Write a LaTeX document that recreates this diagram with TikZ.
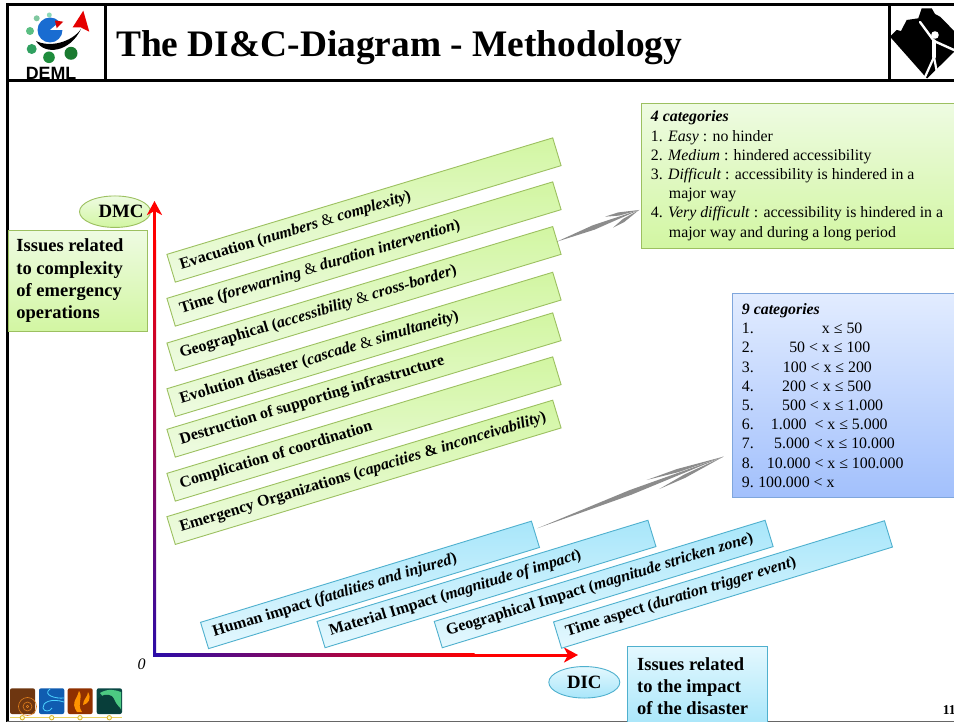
\documentclass[tikz,border=0pt]{standalone}
\usepackage{fontspec}
\setmainfont{Liberation Serif}
\newfontfamily\logofont{Liberation Sans}
\usetikzlibrary{shapes.geometric,arrows.meta,calc}
\definecolor{gborder}{HTML}{9CC060}
\definecolor{gtop}{HTML}{EEFBE2}
\definecolor{gbot}{HTML}{D2F6A2}
\definecolor{bborder}{HTML}{4FB0CE}
\definecolor{btop}{HTML}{E4F8FE}
\definecolor{bbot}{HTML}{A8E6FA}
\definecolor{pborder}{HTML}{7FA6DC}
\definecolor{ptop}{HTML}{E2ECFF}
\definecolor{pbot}{HTML}{A2C0FC}
\definecolor{axisblue}{HTML}{2A0CA8}
\newcommand{\bandfont}{\bfseries\fontsize{15.95}{17}\selectfont}
\newcommand{\rowfont}{\fontsize{15.85}{19.2}\selectfont}
\newcommand{\catrow}[2]{\makebox[#1pt][l]{#2}}
\newcommand{\thin}{{\mdseries\&}}
\tikzset{
  x=1pt,y=-1pt,
  greenband/.style={draw=gborder,line width=.9pt,top color=gbot,bottom color=gtop,rotate=16.8,
    minimum width=403,minimum height=29,inner xsep=9.5,inner ysep=0,text width=384,align=flush left,font=\bandfont},
  blueband/.style={draw=bborder,line width=.9pt,top color=bbot,bottom color=btop,rotate=17,
    minimum width=346,minimum height=27.5,inner xsep=9,inner ysep=0,text width=328,align=flush left,font=\bandfont},
  issuebox/.style={line width=.9pt,anchor=north west,inner xsep=8,inner ysep=0,align=flush left,
    font=\bfseries\fontsize{18.5}{22.4}\selectfont},
  catbox/.style={line width=.9pt,anchor=north west,inner xsep=9.5,inner ysep=0,align=flush left,font=\rowfont},
  greenfill/.style={draw=gborder,top color=gtop,bottom color=gbot},
  bluefill/.style={draw=bborder,top color=btop,bottom color=bbot},
  oval/.style={ellipse,line width=.9pt,inner xsep=-20pt,inner ysep=-5pt,minimum width=71,minimum height=31.5,
    font=\bfseries\fontsize{18.8}{20}\selectfont},
  frameline/.style={draw=black,line width=3pt},
  axisline/.style={draw=red,line width=3pt,-{Stealth[length=14pt,width=15pt,inset=4pt]}},
  sketchfill/.style={fill=gray!75!black,opacity=.72},
}
\newcommand{\taper}[5]{% from, to, position of the belly, half width x, half width y
  \fill[sketchfill] (#1) -- ($(#1)!#3!(#2)+(#4,#5)$) -- (#2) -- ($(#1)!#3!(#2)+(-#4,-#5)$) -- cycle;}
\begin{document}
\begin{tikzpicture}
\clip (0,0) rectangle (954,722);
\fill[white] (0,0) rectangle (954,722);

% frame
\draw[frameline] (7,723) -- (7,5) -- (956,5);
\draw[frameline] (7,80.5) -- (956,80.5);
\draw[frameline] (105,5) -- (105,80.5);
\draw[frameline] (889,5) -- (889,80.5);
\draw[draw=gray!80!black,line width=1pt] (7,721.5) -- (956,721.5);

% title
\node[anchor=base west,inner sep=0,font=\bfseries\fontsize{37.4}{40}\selectfont] (title) at (116,57) {The DI\&C-Diagram - Methodology};

% DEML logo
\fill[white] (9,7) rectangle (103,79);
\fill[blue!55!cyan!80!black!90] (50,30) circle (12.5);
\fill[white] (50,30) -- (62,20) -- (64,30) -- cycle;
\fill[red!85!black] (55,20.5) -- (63.3,21.7) -- (56.7,28.3) -- cycle;
\fill[black] (36,41) .. controls (45,56) and (70,52) .. (81,29) .. controls (72,42) and (50,48) .. (36,41) -- cycle;
\fill[red!90!black] (72.7,27.3) -- (83.3,10.7) -- (89.3,31.7) -- (81,27.5) -- cycle;
\fill[fill={rgb,255:red,128;green,200;blue,160}] (36.7,18.3) circle (3);
\fill[fill={rgb,255:red,140;green,216;blue,184}] (49.3,15) circle (2.5);
\fill[fill={rgb,255:red,90;green,190;blue,130}] (30,31) circle (4);
\fill[fill={rgb,255:red,48;green,160;blue,96}] (31.7,49) circle (5);
\fill[fill={rgb,255:red,30;green,140;blue,60}] (49,57.3) circle (5.8);
\fill[fill={rgb,255:red,26;green,122;blue,48}] (71,53.3) circle (6.5);
\node[inner sep=0,font=\logofont\bfseries\fontsize{17.8}{18}\selectfont,text=black] (deml) at (51,73) {DEML};

% climber logo
\fill[black] (890,36.7) -- (896.7,30) -- (901,31) -- (906.7,20) -- (918.3,18.3) -- (921.7,8.3) -- (931.7,8.3)
  -- (935,14) -- (940,16.7) -- (948.3,25) -- (954,31) -- (954,52) -- (927,78.5) -- cycle;
\fill[white] (935,35) circle (3.8);
\draw[white,line width=2.4pt,line cap=round] (920,22) -- (934,41) -- (954,50);
\draw[white,line width=3.4pt,line cap=round] (934,41) -- (934,57);
\draw[white,line width=2.2pt,line cap=round] (934,57) -- (925,77);
\draw[white,line width=2.2pt,line cap=round] (934,57) -- (938,78);

% footer icons
\fill[white] (9,687) rectangle (125,720);
\fill[rounded corners=2pt,fill={rgb,255:red,110;green,54;blue,16}] (10,688.3) rectangle (35,714);
\draw[orange!55!brown,line width=.6pt] (27.5,706.5) circle (1.2) (27.5,706.5) circle (4.5) (27.5,706.5) circle (9);
\fill[rounded corners=2pt,fill={rgb,255:red,16;green,92;blue,176}] (39,688.3) rectangle (64.3,714);
\draw[blue!25!cyan!70!white,line width=.8pt] (50,689) .. controls (42,695) and (56,699) .. (64,698)
  (64,702) .. controls (52,698) and (42,702) .. (43,708) .. controls (44,712) and (50,712) .. (52,708);
\fill[rounded corners=2pt,fill={rgb,255:red,144;green,48;blue,0}] (67.7,688.3) rectangle (92.7,714);
\fill[orange!85!yellow] (77,712) .. controls (70,702) and (78,698) .. (79,691) .. controls (84,698) and (76,703) .. (82,712) -- cycle;
\fill[orange!85!yellow] (83,705) .. controls (83,699) and (88,697) .. (88,692) .. controls (92,699) and (88,704) .. (83,705) -- cycle;
\fill[rounded corners=2pt,fill={rgb,255:red,10;green,72;blue,68}] (96.7,688.3) rectangle (122,714);
\fill[teal!60!green!70!white] (100,693) .. controls (108,688) and (116,690) .. (121,692) -- (121,711) .. controls (112,708) and (106,700) .. (100,693) -- cycle;
\fill[rounded corners=1pt,fill={rgb,255:red,8;green,62;blue,58}] (100,697) .. controls (106,693) and (112,695) .. (114,699) .. controls (116,704) and (119,707) .. (121,709) -- (121,713.5) -- (97,713.5) -- (97,699) -- cycle;
\draw[brown!50!yellow!70!white,line width=1pt] (10,717.7) -- (122,717.7);
\foreach \cx in {22.3,51.7,80,109.3}
  \filldraw[draw=brown!60!yellow,fill=white!80!yellow,line width=.8pt] (\cx,717.7) circle (2.2);

% axis labels
\node[oval,draw=gborder,top color=gtop,bottom color=gbot] (dmc) at (115,211.7) {\hspace*{12pt}DMC};
\node[oval,draw=bborder,top color=btop,bottom color=bbot] (dic) at (584.3,682.3) {DIC};
\node[issuebox,greenfill,text width=122.7,minimum width=138.7,minimum height=101] (issA) at (8,230)
  {Issues related\\to complexity\\of emergency\\operations};
\node[issuebox,bluefill,inner xsep=10,text width=120.3,minimum width=140.3,minimum height=80] (issB) at (626.7,645.7)
  {Issues related\\to the impact\\of the disaster};

% axes
\coordinate (origin) at (154.5,655);
\coordinate (dmctip) at (154.5,201);
\coordinate (dictip) at (578,655);
\draw[axisline] (origin) -- (dmctip);
\draw[axisline] (origin) -- (dictip);
\shade[bottom color=axisblue,top color=red] ($(origin)+(-1.5,1.5)$) rectangle ($(dmctip)+(1.5,40)$);
\shade[left color=axisblue,right color=red,middle color=red!50!axisblue] ($(origin)+(-1.5,1.5)$) rectangle ($(origin)+(320,-1.5)$);
\node[inner sep=0,anchor=base,font=\itshape\fontsize{16}{18}\selectfont] (zero) at (141.5,669) {0};

% green bands
\node[greenband] (g1) at (364,210) {Evacuation (\textit{numbers} \thin{} \textit{complexity})};
\node[greenband] (g2) at (364,254) {Time (\textit{forewarning} \thin{} \textit{duration intervention})};
\node[greenband] (g3) at (364,298.7) {Geographical (\textit{accessibility} \thin{} \textit{cross-border})};
\node[greenband] (g4) at (364,344.4) {Evolution disaster (\textit{cascade} \thin{} \textit{simultaneity})};
\node[greenband] (g5) at (364,385) {Destruction of supporting infrastructure};
\node[greenband] (g6) at (364,429) {Complication of coordination};
\node[greenband] (g7) at (364,472.3) {Emergency Organizations (\textit{capacities} \& \textit{inconceivability})};

% blue bands
\node[blueband] (b1) at (370,584.9) {Human impact (\textit{fatalities and injured})};
\node[blueband] (b2) at (486.5,584) {Material Impact (\textit{magnitude of impact})};
\node[blueband] (b3) at (603.7,584) {Geographical Impact (\textit{magnitude stricken zone})};
\node[blueband] (b4) at (723,584.5) {Time aspect (\textit{duration trigger event})};

% category boxes
\node[catbox,greenfill,text width=301,minimum width=320,minimum height=145.3] (cat4) at (641,102.7)
  {\textbf{\textit{4 categories}}\\
   1. \textit{Easy} : no hinder\\
   2. \textit{Medium} : hindered accessibility\\
   3. \textit{Difficult} : accessibility is hindered in a\\
   \hspace*{18pt}major way\\
   4. \textit{Very difficult} : accessibility is hindered in a\\
   \hspace*{18pt}major way and during a long period};
\node[catbox,draw=pborder,top color=ptop,bottom color=pbot,text width=211,minimum width=230,minimum height=203.4] (cat9) at (732,293.3)
  {\textbf{\textit{9 categories}}\\
   \catrow{80}{1.}x ≤ 50\\
   \catrow{47.3}{2.}50 < x ≤ 100\\
   \catrow{41}{3.}100 < x ≤ 200\\
   \catrow{40.3}{4.}200 < x ≤ 500\\
   \catrow{40.3}{5.}500 < x ≤ 1.000\\
   \catrow{29}{6.}1.000 \ < x ≤ 5.000\\
   \catrow{32.3}{7.}5.000 < x ≤ 10.000\\
   \catrow{25}{8.}10.000 < x ≤ 100.000\\
   \catrow{16.3}{9.}100.000 < x};

% sketched arrows
\coordinate (s1) at (556.7,241.7);
\coordinate (t1) at (639,210);
\coordinate (s1a) at (605,216.7);
\coordinate (s1b) at (613,227.7);
\coordinate (s2) at (537.3,528.3);
\coordinate (t2) at (723.3,456.7);
\coordinate (s2a) at (646.7,480);
\coordinate (s2b) at (659.3,489);
\taper{s1}{t1}{.45}{.9}{2.2}
\taper{s1a}{t1}{.4}{.5}{1.6}
\taper{s1b}{t1}{.4}{.6}{1.6}
\taper{s2}{t2}{.5}{.9}{2.3}
\taper{s2a}{t2}{.4}{.5}{1.6}
\taper{s2b}{t2}{.4}{.6}{1.6}

% page number
\node[anchor=base west,inner sep=0,font=\bfseries\fontsize{13.5}{15}\selectfont] (page) at (942.7,714.3) {11};
\end{tikzpicture}
\end{document}
